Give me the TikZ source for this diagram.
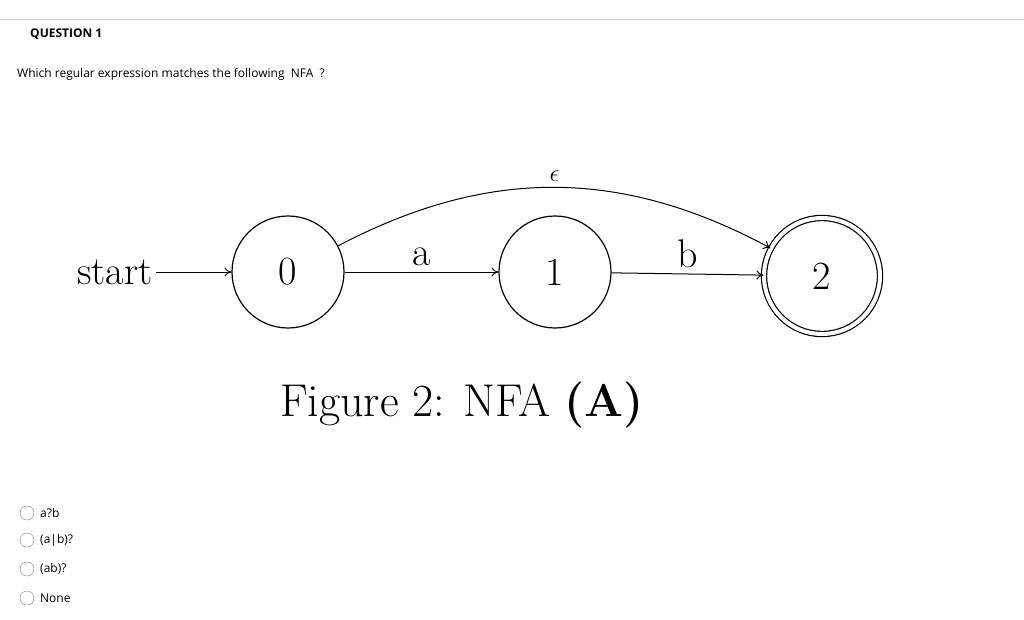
\documentclass[tikz,border=0pt]{standalone}
\usepackage{fontspec}
\newfontfamily\osans{Open Sans}
\usetikzlibrary{arrows.meta}
\begin{document}
\begin{tikzpicture}[x=1pt,y=-1pt,
  state/.style={circle,draw,line width=1.2pt,minimum size=112pt,inner sep=0pt,font=\fontsize{40}{40}\selectfont},
  lbl/.style={font=\fontsize{40}{40}\selectfont},
  edge/.style={line width=1pt,-{To[length=7pt,width=9pt]}},
  ui/.style={font=\osans\fontsize{12}{12}\selectfont,anchor=west,inner sep=0pt},
  radio/.style={circle,draw=gray,minimum size=14pt,inner sep=0pt}]
\useasboundingbox (0,0) rectangle (1024,620);
\draw[gray!40,line width=0.8pt] (0,19) -- (1024,19);
\node[ui,font=\osans\bfseries\fontsize{12}{12}\selectfont] (q) at (30,34) {QUESTION 1};
\node[ui] (w) at (17,74) {Which regular expression matches the following\ \ NFA\ \ ?};
\node[lbl,anchor=east] (start) at (156,272) {start};
\node[state] (s0) at (288,272) {0};
\node[state] (s1) at (555,272) {1};
\node[state,double,double distance=4pt,minimum size=116pt] (s2) at (822,276) {2};
\draw[edge] (start) -- (s0);
\draw[edge] (s0) -- node[lbl,above=2pt]{a} (s1);
\draw[edge] (s1) -- node[lbl,above=2pt]{b} (s2);
\draw[edge] (s0) to[bend left=28] node[lbl,above=2pt]{$\epsilon$} (s2);
\node[font=\fontsize{46}{46}\selectfont] (cap) at (462,405) {Figure 2: NFA \textbf{(A)}};
\foreach \y/\t [count=\i] in {513/a?b,540/(a|b)?,569/(ab)?,598/None}{
  \node[radio] (r\i) at (27,\y) {};
  \node[ui] (t\i) at (40,\y) {\t};
}
\end{tikzpicture}
\end{document}
